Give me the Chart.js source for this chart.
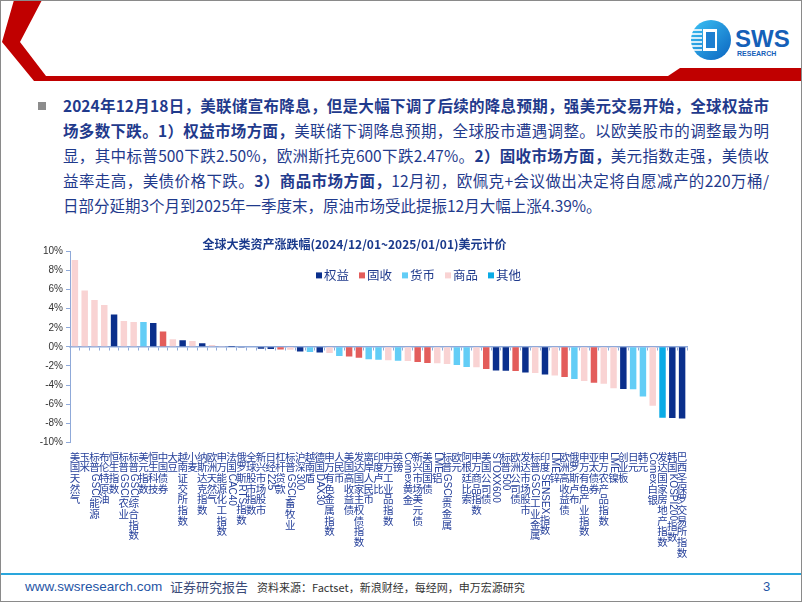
<!DOCTYPE html>
<html><head><meta charset="utf-8">
<script src="https://cdn.jsdelivr.net/npm/chart.js@4.4.1/dist/chart.umd.min.js"></script>
<style>
html,body{margin:0;padding:0;background:#fff;}
#page{position:relative;width:800px;height:600px;border:1px solid #8a8a8a;overflow:hidden;font-family:"Noto Sans CJK SC","Noto Sans",sans-serif;background:#fff;}
.txt{position:absolute;left:62px;top:92px;width:706px;color:#1f3a8c;font-size:15.5px;}
.line{height:25px;line-height:25px;text-align:justify;text-align-last:justify;white-space:nowrap;}
.line.last{text-align-last:left;}
b{font-weight:bold;}
.bullet{position:absolute;left:37px;top:101px;width:8px;height:8px;background:#8c8c8c;}
#chartBox{position:absolute;left:21px;top:227px;width:780px;height:345px;}
.foot{position:absolute;top:576px;height:20px;line-height:20px;white-space:nowrap;}
</style>
</head><body>
<div id="page">
<svg width="802" height="90" style="position:absolute;left:-1px;top:-1px">
  <polygon points="14,0 42,0 20,42 46,76 668,76 680,68 802,68 802,81 34,81 2,42" fill="#c00000"/>
  <defs><linearGradient id="lg" x1="0" y1="0" x2="1" y2="1"><stop offset="0" stop-color="#3cc3f5"/><stop offset="1" stop-color="#0b64c0"/></linearGradient></defs>
  <circle cx="711" cy="40" r="20" fill="url(#lg)"/>
  <g stroke="#fff" stroke-width="1.6">
    <line x1="692" y1="30" x2="702" y2="30"/><line x1="691" y1="34" x2="702" y2="34"/><line x1="691" y1="38" x2="702" y2="38"/>
    <line x1="691" y1="42" x2="702" y2="42"/><line x1="691" y1="46" x2="702" y2="46"/><line x1="692" y1="50" x2="702" y2="50"/>
  </g>
  <rect x="703" y="29" width="14" height="22" fill="#fff"/>
  <rect x="706" y="32" width="9" height="16" fill="#1d7fd0"/>
  <text x="735" y="47" font-family="Liberation Sans, Arial" font-weight="bold" font-size="24" fill="#1560b8">SWS</text>
  <text x="737" y="56" font-family="Liberation Sans, Arial" font-weight="bold" font-size="7" fill="#1560b8">RESEARCH</text>
</svg>
<div class="bullet"></div>
<div class="txt">
  <div class="line"><b>2024年12月18日，美联储宣布降息，但是大幅下调了后续的降息预期，强美元交易开始，全球权益市</b></div>
  <div class="line"><b>场多数下跌。1）权益市场方面，</b>美联储下调降息预期，全球股市遭遇调整。以欧美股市的调整最为明</div>
  <div class="line">显，其中标普500下跌2.50%，欧洲斯托克600下跌2.47%。<b>2）固收市场方面，</b>美元指数走强，美债收</div>
  <div class="line">益率走高，美债价格下跌。<b>3）商品市场方面，</b>12月初，欧佩克+会议做出决定将自愿减产的220万桶/</div>
  <div class="line last">日部分延期3个月到2025年一季度末，原油市场受此提振12月大幅上涨4.39%。</div>
</div>
<div id="chartBox"><canvas id="c"></canvas></div>
<div style="position:absolute;left:0;top:572px;width:802px;height:2px;background:#2aa6dc;"></div>
<div class="foot" style="left:24px;font-family:'Liberation Sans',Arial;font-size:13.5px;color:#1f55a5;">www.swsresearch.com</div>
<div class="foot" style="left:169px;font-size:13px;color:#3b4a78;">证券研究报告</div>
<div class="foot" style="left:256px;font-size:11px;color:#333;">资料来源：Factset，新浪财经，每经网，申万宏源研究</div>
<div class="foot" style="left:762px;font-family:'Liberation Sans',Arial;font-size:13px;color:#1f55a5;">3</div>
</div>
<script>
const categories = ['美国天然气','玉米','标普GSCI能源','布伦特原油','恒生指数','标普GSCI农业','标普GSCI综合指数','美元指数','恒生科技','中国债券',
 '大豆','越南证交所指数','小麦','纳斯达克指数','欧洲天然气','申万能源化工指数','法国CAC40','俄罗斯RTS指数','全球股市指数','新兴市场股市',
 '日经225','杠杆贷款','标普GSCI畜牧业','沪深300','越南盾','德国DAX30','申万有色金属指数','人民币','美国高收益债','发达国家主权债指数',
 '离岸人民币','印度卢比','申万工业品指数','英镑','Comex黄金','新兴市场美元债','美国国债','LME铝','标普GSCI贵金属','欧元',
 '阿根廷比索','申万商品指数','美国公司债','STOXX600','标普500','欧洲公司债','发达市场股市','标普GSCI工业金属','印度SENSEX指数','LME锌',
 '欧洲高收益债','俄罗斯卢布','申万有色产业指数','亚太债券','申万农产品指数','LME镍','创业板','日元','韩元','Comex白银',
 '发达国家房地产指数','韩国KOSPI200指数','巴西圣保罗交易所指数'];
const assetClass = ['商品','商品','商品','商品','权益','商品','商品','货币','权益','固收',
 '商品','权益','商品','权益','商品','商品','权益','权益','权益','权益',
 '权益','固收','商品','权益','货币','权益','商品','货币','固收','固收',
 '货币','货币','商品','货币','商品','固收','固收','商品','商品','货币',
 '货币','商品','固收','权益','权益','固收','权益','商品','权益','商品',
 '固收','货币','商品','固收','商品','商品','权益','货币','货币','商品',
 '其他','权益','权益'];
const changePct = [9.1,5.9,4.9,4.39,3.4,2.7,2.6,2.6,2.5,1.6,
 0.8,0.7,0.6,0.38,0.2,0.03,0.02,-0.02,-0.05,-0.2,
 -0.22,-0.27,-0.3,-0.5,-0.55,-0.6,-0.65,-0.95,-1.0,-1.15,
 -1.3,-1.35,-1.4,-1.45,-1.48,-1.6,-1.7,-1.72,-1.8,-1.9,
 -2.1,-2.15,-2.33,-2.47,-2.5,-2.54,-2.68,-2.75,-2.89,-3.0,
 -3.17,-3.37,-3.58,-3.76,-3.86,-4.35,-4.42,-4.45,-5.2,-6.16,
 -7.44,-7.45,-7.51];
const classNames = ['权益','固收','货币','商品','其他'];
const classColors = ['#0a2f8c','#e35d5b','#62cdf6','#f9d3d3','#0aabe6'];
const yTicks = {min:-10, max:10, step:2};

const datasets = classNames.map((cn, k) => ({
  label: cn,
  data: changePct.map((v, i) => assetClass[i] === cn ? v : null),
  backgroundColor: classColors[k],
  grouped: false,
  categoryPercentage: 1,
  barPercentage: 0.66
}));

const vLabels = {
  id: 'vLabels',
  afterDraw(chart) {
    const ctx = chart.ctx, xs = chart.scales.x, top0 = chart.chartArea.bottom + 10;
    ctx.save();
    ctx.fillStyle = '#26409a';
    chart.data.labels.forEach((lab, i) => {
      const x = xs.getPixelForValue(i);
      let y = top0;
      const tokens = lab.match(/[A-Za-z0-9+.]+|./g);
      tokens.forEach(t => {
        if (/^[A-Za-z0-9+.]+$/.test(t)) {
          ctx.font = '10px "Liberation Sans", Arial, sans-serif';
          const w = ctx.measureText(t).width;
          ctx.save(); ctx.translate(x, y); ctx.rotate(Math.PI / 2);
          ctx.textAlign = 'left'; ctx.textBaseline = 'middle';
          ctx.fillText(t, 0, 0); ctx.restore();
          y += w + 1;
        } else {
          ctx.font = '10.5px "Noto Sans CJK SC"';
          ctx.textAlign = 'center'; ctx.textBaseline = 'top';
          ctx.fillText(t, x, y - 1);
          y += 10.7;
        }
      });
    });
    ctx.restore();
  }
};

const areaLegend = {
  id: 'areaLegend',
  afterDraw(chart) {
    const ctx = chart.ctx;
    const y = chart.chartArea.top + 24;
    let x = chart.chartArea.left + 246;
    ctx.save();
    ctx.font = '12.5px "Noto Sans CJK SC"';
    ctx.textBaseline = 'middle'; ctx.textAlign = 'left';
    chart.data.datasets.forEach(ds => {
      ctx.fillStyle = ds.backgroundColor;
      ctx.fillRect(x, y - 3, 6, 6);
      x += 8;
      ctx.fillStyle = '#1f3a8c';
      ctx.fillText(ds.label, x, y);
      x += ctx.measureText(ds.label).width + 10;
    });
    ctx.restore();
  }
};

new Chart(document.getElementById('c'), {
  type: 'bar',
  data: { labels: categories, datasets },
  options: {
    responsive: true, maintainAspectRatio: false, animation: false,
    layout: { padding: { left: 0, right: 115, top: 0, bottom: 130.7 } },
    plugins: {
      legend: { display: false },
      tooltip: { enabled: false },
      title: { display: true, text: '全球大类资产涨跌幅(2024/12/01~2025/01/01)美元计价', color: '#1a3a8c',
        font: { size: 12, weight: 'bold', family: '"Noto Sans CJK SC"' }, padding: { top: 9, bottom: 0 } }
    },
    scales: {
      x: { position: { y: 0 }, offset: true,
        ticks: { display: false },
        grid: { drawOnChartArea: false, drawTicks: true, tickLength: 3, offset: true, color: '#8fa9d9' },
        border: { color: '#8fa9d9', width: 1.5 } },
      y: { min: yTicks.min, max: yTicks.max,
        ticks: { stepSize: yTicks.step, callback: v => v + '%', color: '#333', font: { size: 10, family: '"Liberation Sans", Arial' }, padding: 3 },
        grid: { drawOnChartArea: false, drawTicks: true, tickLength: 4, color: '#8fa9d9' },
        border: { color: '#8fa9d9', width: 1 },
        afterFit(s) { s.width = 48; } }
    }
  },
  plugins: [vLabels, areaLegend]
});
</script>
</body></html>
